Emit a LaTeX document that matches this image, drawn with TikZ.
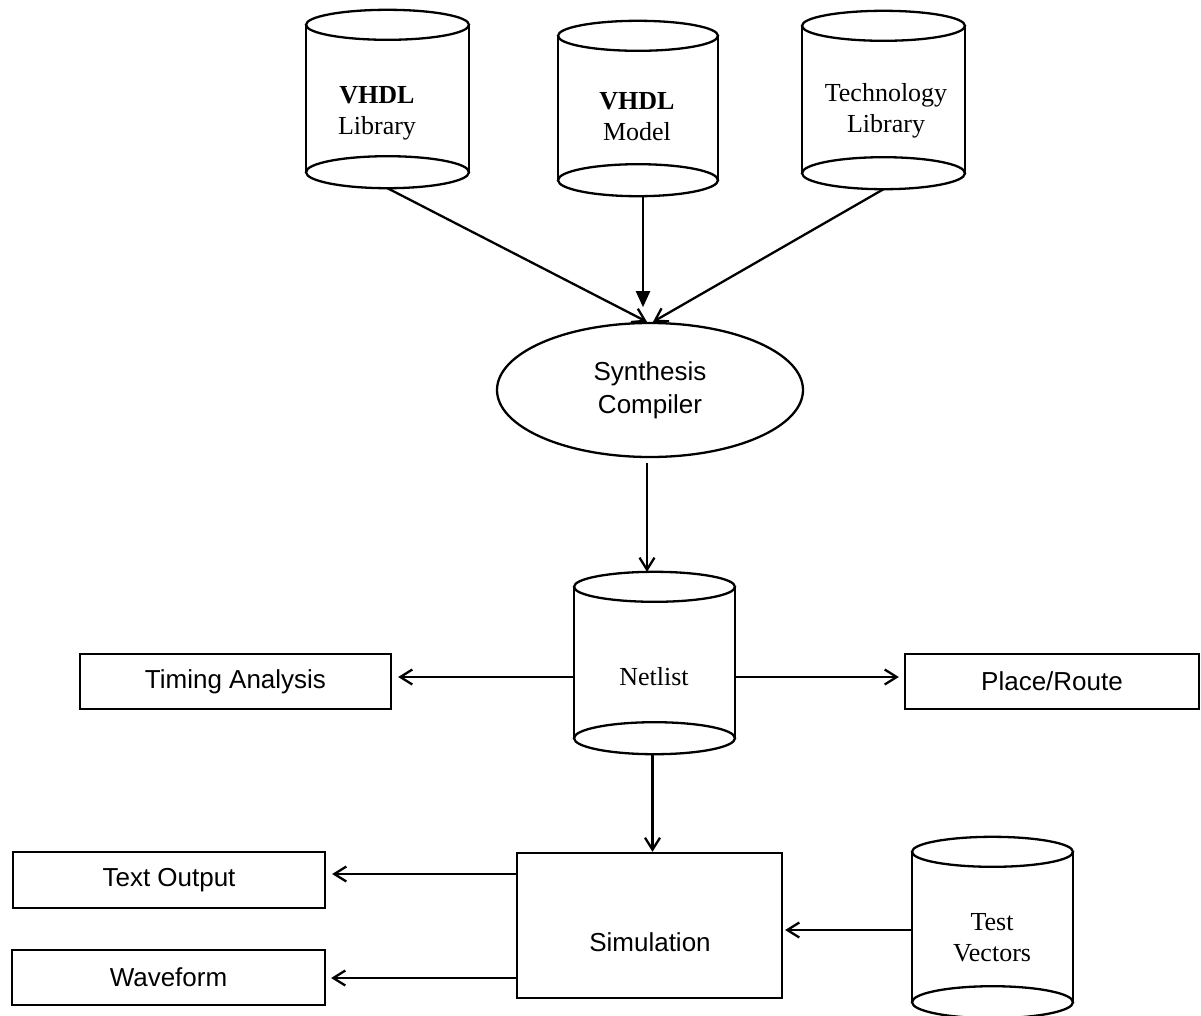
\documentclass[tikz,border=0pt]{standalone}
\usepackage{fontspec}
\setmainfont{Liberation Serif}
\setsansfont{Liberation Sans}
\usetikzlibrary{arrows.meta,shapes.geometric}

% database cylinder: name, centre x, top-ellipse y, bottom-ellipse y, x radius
\newcommand{\dbcyl}[5]{%
  \node[inner sep=0pt, minimum width={2*#5pt}, minimum height={(#4-#3)*1pt}] (#1) at (#2,{(#3+#4)/2}) {};
  \draw[lw] (#1.north west) -- (#1.south west) (#1.north east) -- (#1.south east);
  \draw[lw] (#1.north) ellipse [x radius=#5pt, y radius=15pt];
  \draw[lw] (#1.south) ellipse [x radius=#5pt, y radius=16pt];
  \coordinate (#1-bot) at ([yshift=-16pt]#1.south);
  \coordinate (#1-top) at ([yshift=15pt]#1.north);
}

\begin{document}
\begin{tikzpicture}[x=1pt,y=-1pt,
  lw/.style={line width=2.3pt},
  box/.style={draw, line width=2.3pt, rectangle, inner sep=0pt,
    font=\sffamily\fontsize{26}{30}\selectfont},
  sanslbl/.style={font=\sffamily\fontsize{26}{33}\selectfont, inner sep=0pt, align=center},
  seriflbl/.style={font=\rmfamily\fontsize{26}{31}\selectfont, inner sep=0pt, align=center},
  arr/.style={line width=2.3pt, -{Straight Barb[length=12pt,width=15pt]}},
  farr/.style={line width=2.3pt, -{Triangle[length=16pt,width=14pt]}},
]
\useasboundingbox (0,0) rectangle (1201,1015);

% source databases
\dbcyl{vlib}{387.5}{25}{172}{81.5}
\node[seriflbl] (vliblbl) at (377,113) {\textbf{VHDL}\\Library};
\dbcyl{vmod}{638}{36}{180}{80}
\node[seriflbl] (vmodlbl) at (637,117) {\textbf{VHDL}\\Model};
\dbcyl{tlib}{883.5}{26}{173}{81.5}
\node[seriflbl] (tliblbl) at (886,111) {Technology\\Library};

% synthesis step
\node[draw, ellipse, lw, inner sep=0pt, minimum width=306pt, minimum height=134pt,
  font=\sffamily\fontsize{26}{33}\selectfont, align=center] (synth) at (650,390) {Synthesis\\Compiler};

\draw[arr] (vlib-bot) -- ([xshift=-3pt]synth.north);
\draw[arr] (tlib-bot) -- ([xshift=3pt]synth.north);
\draw[farr] ([xshift=5pt]vmod-bot) -- ++(0,111);

% netlist
\dbcyl{net}{654.5}{587}{738}{80.5}
\node[seriflbl] (netlbl) at (654,677) {Netlist};
\draw[arr, shorten <=5pt] ([xshift=-3pt]synth.south) -- ([xshift=-3pt]synth.south |- net-top);

\node[box, minimum width=311pt, minimum height=55pt] (timing) at (235.5,681.5) {Timing Analysis};
\node[box, minimum width=294pt, minimum height=55pt] (place) at (1052,681.5) {Place/Route};
\draw[arr, shorten >=6pt] ([yshift=-14.5pt]net.west) -- ([yshift=-14.5pt]net.west -| timing.east);
\draw[arr, shorten >=5pt] ([yshift=-14.5pt]net.east) -- ([yshift=-14.5pt]net.east -| place.west);

% simulation
\node[draw, lw, rectangle, inner sep=0pt, minimum width=265pt, minimum height=145pt] (sim) at (649.5,925.5) {};
\node[sanslbl] (simlbl) at (650,942) {Simulation};
\draw[arr] ([xshift=-2pt]net-bot) -- ([xshift=-2pt]net-bot |- sim.north);

\node[box, minimum width=312pt, minimum height=56pt] (textout) at (169,880) {Text Output};
\node[box, minimum width=313pt, minimum height=55pt] (wave) at (168.5,977.5) {Waveform};
\draw[arr, shorten >=6pt] ([yshift=51.5pt]sim.west) -- ([yshift=51.5pt]sim.west -| textout.east);
\draw[arr, shorten >=5pt] ([yshift=-52.5pt]sim.west) -- ([yshift=-52.5pt]sim.west -| wave.east);

\dbcyl{tv}{992.5}{852}{1002}{80.5}
\node[seriflbl] (tvlbl) at (992,938) {Test\\Vectors};
\draw[arr, shorten >=2pt] ([yshift=-3pt]tv.west) -- ([yshift=-3pt]tv.west -| sim.east);
\end{tikzpicture}
\end{document}
